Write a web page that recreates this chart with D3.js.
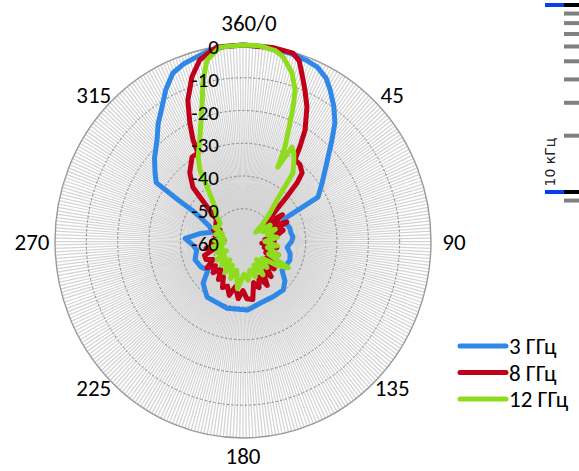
<!DOCTYPE html>
<html><head><meta charset="utf-8">
<script src="https://cdn.jsdelivr.net/npm/d3@7"></script>
<style>body{margin:0;background:#fff}svg{display:block}</style>
</head><body>
<svg id="c" width="579" height="471"></svg>
<script>
// ---- data ----
const ringLevels = [0, -10, -20, -30, -40, -50, -60];
const angleLabelDeg = [0, 45, 90, 135, 180, 225, 270, 315];
const angleLabels = ["360/0", "45", "90", "135", "180", "225", "270", "315"];
const seriesNames = ["3 ГГц", "8 ГГц", "12 ГГц"];
const seriesColors = ["#2f87e8", "#c0001a", "#8fdc1e"];

const ang3 = [0,8,15,20,24,28,31,35,39,42.5,48,54.6,60.5,61,62,65,70,75,80,85,90,97,104,111,118,125,132,139,150,164,176,194,214,220,225,232,240,250,260,266,273,280,286,293,298,300.5,301.5,303,306.7,312,318.5,323,327.8,332,336.5,341,345,350,355];
const val3 = [0,-0.2,-0.6,-1.1,-1.7,-3.5,-6,-9.5,-13.4,-18,-24,-29,-32.5,-38,-44,-46,-45,-44.5,-44.5,-44,-44.5,-45.8,-44.5,-44,-44.5,-44.8,-42,-40.4,-40.6,-40.4,-39,-39,-39.5,-41,-42,-45.8,-44.5,-43.7,-45,-44,-41.5,-46,-49.7,-48.5,-45,-41,-36,-27,-25,-22,-18.6,-15,-11.5,-7.5,-3.9,-2.5,-1.8,-0.6,-0.2];

const ang8 = [0,9,15.5,18,20,23,26.4,30.2,32.1,33.6,37.7,42,44,45.5,47,50,52,57,62,67,72,75,80,85,90,95,100,105,110,115,120,125,130,135,140,145,150,155,160,165,170,176,180,185,190,195,200,205,210,214,220,225,230,235,240,245,251,255,260,265,270,275,280,285,290,295,300,305,308,312.7,316,321,327.8,332,332.8,334.9,337.8,342,346,350,352];
const val8 = [0,0,-0.3,-2,-5.2,-9.5,-14.1,-20.6,-25.8,-30,-30.3,-31.8,-35.2,-40,-44,-48.6,-52,-45,-50,-44.8,-50,-46.7,-49,-53,-50,-54,-49,-53,-48,-52,-47.5,-51,-47,-50,-46,-49,-44.5,-48,-45,-47,-42,-42.5,-45,-42.5,-46,-43,-45.5,-44.5,-47.5,-46,-49,-46.5,-48.5,-46,-49,-47,-47,-50,-48,-52,-50,-54,-51,-53,-50,-52,-50,-49.5,-49.4,-44.4,-37,-33,-29.5,-29.4,-25.1,-20,-13.4,-7.2,-2.9,-1,0];

const ang12 = [0,5,10,12.8,16.9,19.8,21.3,22.5,24.9,26.1,28.5,31,34,37.3,40.6,45,50,55,60,65,70,76,83.6,90,97,103,110,115,119,124,130,136,142,148,154,160,166,172,178,187,193,199,205,211,217,223,230,236,242,248,254,260,266,272,278,284,290,295,300,307.6,313,319.7,325.4,327.8,331,336,342.3,345.5,348.3,353];
const val12 = [0,0,-0.8,-2.2,-6.2,-10.9,-16,-20.8,-28.2,-34.7,-27.2,-28.5,-31,-33.7,-43.3,-48,-52,-55,-50,-53,-49,-52,-49,-53,-49,-52,-48,-51,-43.5,-47,-52,-49,-53,-48,-52,-48.5,-51,-48,-50,-45.5,-51,-48,-52,-49,-53,-50,-52.5,-50,-54,-51,-53,-50,-54,-51,-54,-51,-53,-50,-51,-50.8,-48.5,-46.2,-39.8,-34.2,-30.5,-26.1,-16.9,-9.1,-3.4,-0.2];

const freqMajor = [10000, 100000];
const freqMinor = [9000, 20000, 30000, 40000, 50000, 60000, 70000, 80000, 90000];
const freqLabel = "10 кГц";

// ---- layout ----
const svg = d3.select("#c");
const cx = 243, cy = 241.5, RX = 188, RY = 196.5;
const font = "Carlito, Calibri, Lato, 'Open Sans', sans-serif";
const rScale = d3.scaleLinear().domain([-60, 0]).range([0, 1]).clamp(true);
const aScale = d3.scaleLinear().domain([0, 360]).range([0, 2 * Math.PI]);
const px = (a, v) => cx + Math.sin(aScale(a)) * RX * rScale(v);
const py = (a, v) => cy - Math.cos(aScale(a)) * RY * rScale(v);

// spokes (360 categories)
svg.append("g").selectAll("line").data(d3.range(360)).join("line")
  .attr("x1", cx).attr("y1", cy)
  .attr("x2", d => px(d, 0)).attr("y2", d => py(d, 0))
  .attr("stroke", "#d4d4d4").attr("stroke-width", 1.25);

// rings
svg.append("g").selectAll("ellipse").data(ringLevels.filter(v => v > -60)).join("ellipse")
  .attr("cx", cx).attr("cy", cy)
  .attr("rx", d => RX * rScale(d)).attr("ry", d => RY * rScale(d))
  .attr("fill", "none")
  .attr("stroke", d => d === 0 ? "#9a9a9a" : "#888")
  .attr("stroke-width", d => d === 0 ? 1.4 : 1)
  .attr("stroke-dasharray", d => d === 0 ? null : "2.5,2");

// series
const series = [[ang3, val3], [ang8, val8], [ang12, val12]];
const line = d3.line().x(d => px(d[0], d[1])).y(d => py(d[0], d[1])).curve(d3.curveLinearClosed);
svg.append("g").selectAll("path").data(series).join("path")
  .attr("d", s => line(s[0].map((a, i) => [a, s[1][i]])))
  .attr("fill", "none")
  .attr("stroke", (s, i) => seriesColors[i])
  .attr("stroke-width", 5)
  .attr("stroke-linejoin", "round");

// value labels
svg.append("g").selectAll("text").data(ringLevels).join("text")
  .attr("x", cx - 24).attr("y", d => cy - RY * rScale(d) + 2)
  .attr("text-anchor", "end").attr("dominant-baseline", "central")
  .attr("font-family", font).attr("font-size", 21).attr("fill", "#000")
  .text(d => d);

// angle labels
svg.append("g").selectAll("text").data(angleLabelDeg).join("text")
  .attr("x", (d, i) => cx + Math.sin(aScale(d)) * (RX + 23) + (d === 0 ? 6 : 0))
  .attr("y", d => {
    const s2 = Math.sin(2 * aScale(d));
    return Math.min(456, cy - Math.cos(aScale(d)) * (RY + 22 - 12 * s2 * s2));
  })
  .attr("text-anchor", "middle").attr("dominant-baseline", "central")
  .attr("font-family", font).attr("font-size", 23).attr("fill", "#000")
  .text((d, i) => angleLabels[i]);

// legend
const lg = svg.append("g").selectAll("g").data(seriesNames).join("g")
  .attr("transform", (d, i) => `translate(0,${346 + i * 26.5})`);
lg.append("line").attr("x1", 460).attr("x2", 506).attr("y1", 0).attr("y2", 0)
  .attr("stroke", (d, i) => seriesColors[i]).attr("stroke-width", 5).attr("stroke-linecap", "round");
lg.append("text").attr("x", 509).attr("y", 0).attr("dominant-baseline", "central")
  .attr("font-family", font).attr("font-size", 23).attr("fill", "#000").text(d => d);

// log frequency ruler (top right)
const fScale = d3.scaleLog().domain([10000, 100000]).range([192, 5]);
const rg = svg.append("g");
rg.selectAll("rect.minor").data(freqMinor).join("rect").attr("class", "minor")
  .attr("x", 564).attr("width", 15).attr("y", d => fScale(d) - 2).attr("height", 4).attr("fill", "#808080");
rg.selectAll("rect.majb").data(freqMajor).join("rect").attr("class", "majb")
  .attr("x", 545).attr("width", 19).attr("y", d => fScale(d) - 2).attr("height", 4).attr("fill", "#0a3cf0");
rg.selectAll("rect.majk").data(freqMajor).join("rect").attr("class", "majk")
  .attr("x", 564).attr("width", 15).attr("y", d => fScale(d) - 2).attr("height", 4).attr("fill", "#000");
rg.append("text").attr("transform", `translate(555,${fScale(10000) - 30}) rotate(-90)`)
  .attr("text-anchor", "middle").attr("font-family", "'DejaVu Sans', sans-serif")
  .attr("font-size", 14).attr("fill", "#222").text(freqLabel);
</script>
</body></html>
